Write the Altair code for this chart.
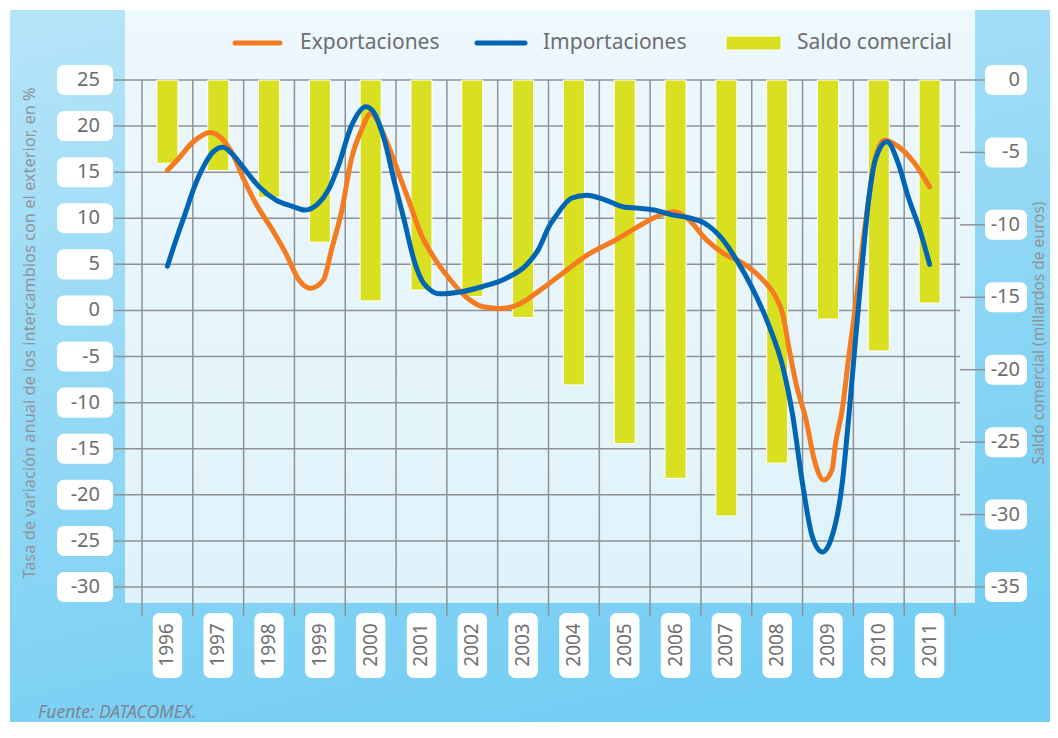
import altair as alt
import pandas as pd

# ---------------- data ----------------
years = list(range(1996, 2012))
saldo = [-5.75, -6.25, -8.1, -11.2, -15.25, -14.5, -14.95, -16.4,
         -21.05, -25.1, -27.5, -30.1, -26.45, -16.5, -18.7, -15.4]

exp_t = [1996.00, 1996.19, 1996.51, 1996.84, 1997.06, 1997.29, 1997.48, 1997.74,
         1998.07, 1998.33, 1998.59, 1998.81, 1999.07, 1999.23, 1999.43, 1999.62,
         1999.82, 2000.01, 2000.27, 2000.53, 2000.79, 2000.98, 2001.24, 2001.57,
         2001.89, 2002.21, 2002.54, 2002.93, 2003.31, 2003.70, 2004.29, 2004.87,
         2005.26, 2005.78, 2005.97, 2006.23, 2006.62, 2006.94, 2007.33, 2007.72,
         2007.98, 2008.11, 2008.24, 2008.37, 2008.57, 2008.73, 2008.92, 2009.08,
         2009.15, 2009.28, 2009.41, 2009.54, 2009.67, 2009.80, 2009.93, 2010.12,
         2010.38, 2010.70, 2011.00]
exp_v = [15.2, 16.3, 18.3, 19.3, 18.7, 16.9, 14.5, 11.6,
         8.7, 6.2, 3.3, 2.4, 3.3, 6.6, 10.8, 16.4,
         19.6, 21.4, 18.9, 15.2, 11.3, 8.4, 5.8, 3.3,
         1.4, 0.4, 0.2, 0.7, 2.1, 3.7, 6.1, 7.8,
         9.1, 10.5, 10.7, 10.0, 7.6, 6.2, 5.1, 3.3,
         1.4, -0.4, -4.3, -7.9, -11.9, -16.2, -18.4, -17.3,
         -14.4, -10.8, -5.0, 0.4, 6.6, 12.0, 16.5, 18.5,
         17.8, 16.0, 13.4]

imp_t = [1996.00, 1996.19, 1996.35, 1996.51, 1996.71, 1996.90, 1997.09, 1997.29,
         1997.48, 1997.81, 1998.13, 1998.46, 1998.71, 1998.97, 1999.17, 1999.36,
         1999.62, 1999.91, 2000.07, 2000.27, 2000.46, 2000.66, 2000.85, 2001.05,
         2001.37, 2001.76, 2002.21, 2002.67, 2003.06, 2003.31, 2003.51, 2003.64,
         2003.96, 2004.25, 2004.61, 2005.00, 2005.26, 2005.58, 2005.91, 2006.30,
         2006.56, 2006.88, 2007.21, 2007.53, 2007.85, 2008.11, 2008.30, 2008.50,
         2008.69, 2008.89, 2009.08, 2009.28, 2009.41, 2009.54, 2009.67, 2009.80,
         2009.93, 2010.16, 2010.38, 2010.58, 2010.81, 2011.00]
imp_v = [4.8, 8.0, 10.5, 13.1, 15.6, 17.2, 17.7, 16.9,
         15.6, 13.4, 12.0, 11.3, 10.9, 11.6, 13.1, 15.6,
         20.0, 22.1, 21.4, 18.5, 14.1, 9.8, 5.5, 2.9,
         1.8, 2.0, 2.6, 3.5, 4.9, 6.7, 9.1, 10.2,
         12.2, 12.5, 12.0, 11.2, 11.1, 10.9, 10.4, 10.0,
         9.5, 8.0, 5.4, 2.2, -1.8, -6.1, -11.2, -18.8,
         -24.5, -26.2, -24.5, -18.8, -11.5, -3.3, 4.7, 12.0,
         16.3, 18.3, 16.0, 12.3, 8.7, 5.0]

left_ticks = [25, 20, 15, 10, 5, 0, -5, -10, -15, -20, -25, -30]
left_labels = ["25", "20", "15", "10", "5", "0", "-5", "-10", "-15", "-20", "-25", "-30"]
right_ticks = [0, -5, -10, -15, -20, -25, -30, -35]
right_labels = ["0", "-5", "-10", "-15", "-20", "-25", "-30", "-35"]
half_years = [y - 0.5 for y in years] + [years[-1] + 0.5]
year_labels = [str(y) for y in years]

legend_labels = ["Exportaciones", "Importaciones", "Saldo comercial"]
left_title = "Tasa de variación anual de los intercambios con el exterior, en %"
right_title = "Saldo comercial (millardos de euros)"
source = "Fuente: DATACOMEX."

# ---------------- style ----------------
ORANGE = "#f47b20"
BLUE = "#0066b3"
YELLOW = "#d9e021"
GRID = "#8e9296"
TXT = "#6d6e71"
FONT = "Noto Sans"

W, H = 823, 507
xs = alt.Scale(domain=[1995.5, 2011.5], nice=False, zero=False)
yl = alt.Scale(domain=[-30, 25], nice=False, zero=False)
yr = alt.Scale(domain=[-35, 0], nice=False, zero=False)

one = pd.DataFrame({"a": [0]})

def txt(text, x, y, size, color=TXT, angle=0, align="left", style="normal"):
    return alt.Chart(one).mark_text(
        text=text, fontSize=size, font=FONT, color=color, angle=angle,
        align=align, baseline="middle", fontStyle=style
    ).encode(x=alt.value(x), y=alt.value(y))

# backgrounds
bg_outer = alt.Chart(one).mark_rect(
    fill={"gradient": "linear", "x1": 0, "y1": 0, "x2": 0.35, "y2": 1,
          "stops": [{"offset": 0, "color": "#b6e4f8"},
                    {"offset": 0.55, "color": "#8fd7f5"},
                    {"offset": 1, "color": "#72cdf3"}]}
).encode(x=alt.value(-127), x2=alt.value(1000), y=alt.value(-70), y2=alt.value(700))

bg_panel = alt.Chart(one).mark_rect(
    fill={"gradient": "linear", "x1": 0, "y1": 0, "x2": 0, "y2": 1,
          "stops": [{"offset": 0, "color": "#eef8fd"},
                    {"offset": 1, "color": "#dff2fa"}]}
).encode(x=alt.value(-12), x2=alt.value(838), y=alt.value(-70), y2=alt.value(523))

# grid
df_lt = pd.DataFrame({"v": left_ticks, "label": left_labels})
df_rt = pd.DataFrame({"v": right_ticks, "label": right_labels})
df_hy = pd.DataFrame({"h": half_years})
df_years = pd.DataFrame({"year": years, "label": year_labels})

hgrid = alt.Chart(df_lt).mark_rule(color=GRID, strokeWidth=1.5).encode(
    y=alt.Y("v:Q", scale=yl, axis=None), x=alt.value(-23), x2=alt.value(W))
vgrid = alt.Chart(df_hy).mark_rule(color=GRID, strokeWidth=1.5).encode(
    x=alt.X("h:Q", scale=xs, axis=None), y=alt.value(0), y2=alt.value(536))
rticks = alt.Chart(df_rt).mark_rule(color=GRID, strokeWidth=1.5).encode(
    y=alt.Y("v:Q", scale=yr, axis=None), x=alt.value(W), x2=alt.value(848))

# bars
df_bar = pd.DataFrame({"year": years, "saldo": saldo})
bars = alt.Chart(df_bar).mark_bar(size=21, color=YELLOW, stroke="white", strokeWidth=1).encode(
    x=alt.X("year:Q", scale=xs, axis=None),
    y=alt.Y("saldo:Q", scale=yr, axis=None),
    y2=alt.datum(0))

# lines
df_exp = pd.DataFrame({"t": exp_t, "v": exp_v})
df_imp = pd.DataFrame({"t": imp_t, "v": imp_v})
def line(df, color):
    return alt.Chart(df).mark_line(interpolate="monotone", strokeWidth=5, color=color,
                                   strokeCap="round", strokeJoin="round").encode(
        x=alt.X("t:Q", scale=xs, axis=None), y=alt.Y("v:Q", scale=yl, axis=None))
l_exp = line(df_exp, ORANGE)
l_imp = line(df_imp, BLUE)

# left axis labels in boxes
lbox = alt.Chart(df_lt).transform_calculate(lo="datum.v - 1.63", hi="datum.v + 1.63").mark_rect(
    fill="white", cornerRadius=7).encode(
    y=alt.Y("lo:Q", scale=yl, axis=None), y2="hi:Q", x=alt.value(-80), x2=alt.value(-24))
ltext = alt.Chart(df_lt).mark_text(align="right", baseline="middle", fontSize=20, font=FONT,
                                   color=TXT).encode(
    y=alt.Y("v:Q", scale=yl, axis=None), x=alt.value(-37), text="label:N")

# right axis labels in boxes
rbox = alt.Chart(df_rt).transform_calculate(lo="datum.v - 1.035", hi="datum.v + 1.035").mark_rect(
    fill="white", cornerRadius=7).encode(
    y=alt.Y("lo:Q", scale=yr, axis=None), y2="hi:Q", x=alt.value(848), x2=alt.value(890))
rtext = alt.Chart(df_rt).mark_text(align="right", baseline="middle", fontSize=20, font=FONT,
                                   color=TXT).encode(
    y=alt.Y("v:Q", scale=yr, axis=None), x=alt.value(883), text="label:N")

# year labels
ybox = alt.Chart(df_years).transform_calculate(a="datum.year - 0.29", b="datum.year + 0.29").mark_rect(
    fill="white", cornerRadius=7).encode(
    x=alt.X("a:Q", scale=xs, axis=None), x2="b:Q", y=alt.value(533), y2=alt.value(598))
ytext = alt.Chart(df_years).mark_text(angle=270, align="center", baseline="middle", fontSize=19,
                                      font=FONT, color=TXT).encode(
    x=alt.X("year:Q", scale=xs, axis=None), y=alt.value(565), text="label:N")

# legend
leg_o = alt.Chart(one).mark_rule(color=ORANGE, strokeWidth=5, strokeCap="round").encode(
    x=alt.value(98), x2=alt.value(143), y=alt.value(-37))
leg_b = alt.Chart(one).mark_rule(color=BLUE, strokeWidth=5, strokeCap="round").encode(
    x=alt.value(340), x2=alt.value(388), y=alt.value(-37))
leg_y = alt.Chart(one).mark_rect(color=YELLOW, stroke="white", strokeWidth=1).encode(
    x=alt.value(589), x2=alt.value(644), y=alt.value(-44), y2=alt.value(-30))
leg_t1 = txt(legend_labels[0], 163, -37, 21)
leg_t2 = txt(legend_labels[1], 406, -37, 21)
leg_t3 = txt(legend_labels[2], 660, -37, 21)

# titles & source
t_left = txt(left_title, -107, 253, 16.4, color="#8f9499", angle=270, align="center")
t_right = txt(right_title, 902, 253, 15.5, color="#8f9499", angle=270, align="center")
t_src = txt(source, -99, 633, 17.5, color="#7b8794", style="italic")

chart = alt.layer(
    bg_outer, bg_panel, hgrid, vgrid, rticks, bars, l_exp, l_imp,
    lbox, ltext, rbox, rtext, ybox, ytext,
    leg_o, leg_b, leg_y, leg_t1, leg_t2, leg_t3,
    t_left, t_right, t_src
).resolve_scale(y="independent").properties(
    width=W, height=H,
    autosize=alt.AutoSizeParams(type="none"),
    padding={"left": 129, "top": 72, "right": 90, "bottom": 135},
    background="white"
).configure_view(stroke=None)

chart.save("out.html", embed_options={"renderer": "svg", "actions": False})
